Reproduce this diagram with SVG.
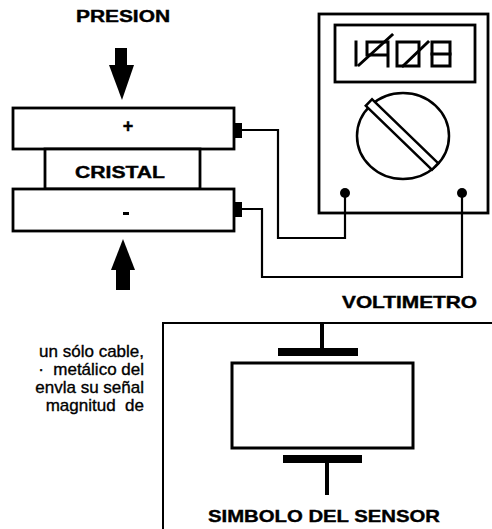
<svg xmlns="http://www.w3.org/2000/svg" width="492" height="529" viewBox="0 0 492 529">
  <style>
    .lbl { font-family: "Liberation Sans", Arial, sans-serif; font-weight: bold; fill: #000; stroke: #000; stroke-width: 0.4; }
    .txt { font-family: "Liberation Sans", Arial, sans-serif; font-size: 17px; fill: #000; stroke: #000; stroke-width: 0.35; }
    .box { fill: #fff; stroke: #000; stroke-width: 2.8; }
    .wire { fill: none; stroke: #000; stroke-width: 2.2; }
    .seg { fill: none; stroke: #000; stroke-width: 3; stroke-linecap: square; }
    .solid { fill: #000; stroke: none; }
  </style>

  <rect width="492" height="529" fill="#fff"/>

  <!-- pressure label and arrows -->
  <g id="presion">
    <text class="lbl" x="76" y="22" font-size="16" textLength="94" lengthAdjust="spacingAndGlyphs">PRESION</text>
  </g>
  <g id="arrow-down">
    <rect class="solid" x="115" y="48" width="12" height="18"/>
    <polygon class="solid" points="109,65 134,65 122,100"/>
  </g>
  <g id="arrow-up">
    <polygon class="solid" points="123,239 111,270 135,270"/>
    <rect class="solid" x="116" y="269" width="14" height="21"/>
  </g>

  <!-- crystal sandwich -->
  <g id="plate-top">
    <rect class="box" x="13" y="108" width="221" height="41"/>
    <text class="lbl" x="128" y="132" font-size="18" text-anchor="middle">+</text>
    <rect class="solid" x="234" y="123" width="8" height="15"/>
  </g>
  <g id="cristal">
    <rect class="box" x="45" y="149" width="155" height="40"/>
    <text class="lbl" x="75" y="178" font-size="16" textLength="90" lengthAdjust="spacingAndGlyphs">CRISTAL</text>
  </g>
  <g id="plate-bottom">
    <rect class="box" x="13" y="189" width="221" height="42"/>
    <rect class="solid" x="123" y="212" width="6" height="3"/>
    <rect class="solid" x="234" y="202" width="8" height="15"/>
  </g>

  <!-- voltmeter -->
  <g id="voltimetro">
    <rect class="box" x="319" y="14" width="169" height="199"/>
    <rect class="box" x="335" y="25" width="140" height="57"/>
    <!-- seven-segment reading -->
    <g class="seg">
      <line x1="356" y1="42" x2="356" y2="65"/>
      <path d="M367,55 V42 H388 V66 M367,55 H388"/>
      <line x1="359" y1="65" x2="392" y2="35"/>
      <rect x="397" y="42" width="22" height="24"/>
      <line x1="403" y1="66" x2="428" y2="42"/>
      <rect x="432" y="42" width="18" height="24"/>
      <line x1="432" y1="54" x2="450" y2="54"/>
    </g>
    <!-- selector dial -->
    <ellipse cx="403" cy="136" rx="46" ry="43" fill="none" stroke="#000" stroke-width="2.5"/>
    <rect x="356" y="130" width="92" height="9" fill="#fff" stroke="#000" stroke-width="2.5" transform="rotate(44 402 134.5)"/>
    <circle class="solid" cx="345" cy="193" r="5"/>
    <circle class="solid" cx="462" cy="193" r="5"/>
    <text class="lbl" x="342" y="308" font-size="17" textLength="135" lengthAdjust="spacingAndGlyphs">VOLTIMETRO</text>
  </g>

  <!-- connectors -->
  <g id="connectors">
    <path class="wire" d="M242,130 H278 V238 H345 V193"/>
    <path class="wire" d="M242,209 H262 V277 H462 V193"/>
  </g>

  <!-- body text -->
  <g id="parrafo" class="txt" text-anchor="end">
    <text x="144" y="357">un sólo cable,</text>
    <text x="144" y="375">·&#160; metálico del</text>
    <text x="144" y="393">envla su señal</text>
    <text x="144" y="411">magnitud&#160; de</text>
  </g>

  <!-- sensor symbol -->
  <g id="simbolo">
    <path d="M163,529 V323 H492" fill="none" stroke="#000" stroke-width="2"/>
    <rect class="solid" x="320" y="323" width="4" height="28"/>
    <rect class="solid" x="278" y="348" width="80" height="8"/>
    <rect x="232" y="363" width="181" height="85" fill="#fff" stroke="#000" stroke-width="3"/>
    <rect class="solid" x="283" y="455" width="79" height="8"/>
    <rect class="solid" x="325" y="462" width="4" height="33"/>
    <text class="lbl" x="208" y="522" font-size="17" textLength="232" lengthAdjust="spacingAndGlyphs">SIMBOLO DEL SENSOR</text>
  </g>
</svg>
